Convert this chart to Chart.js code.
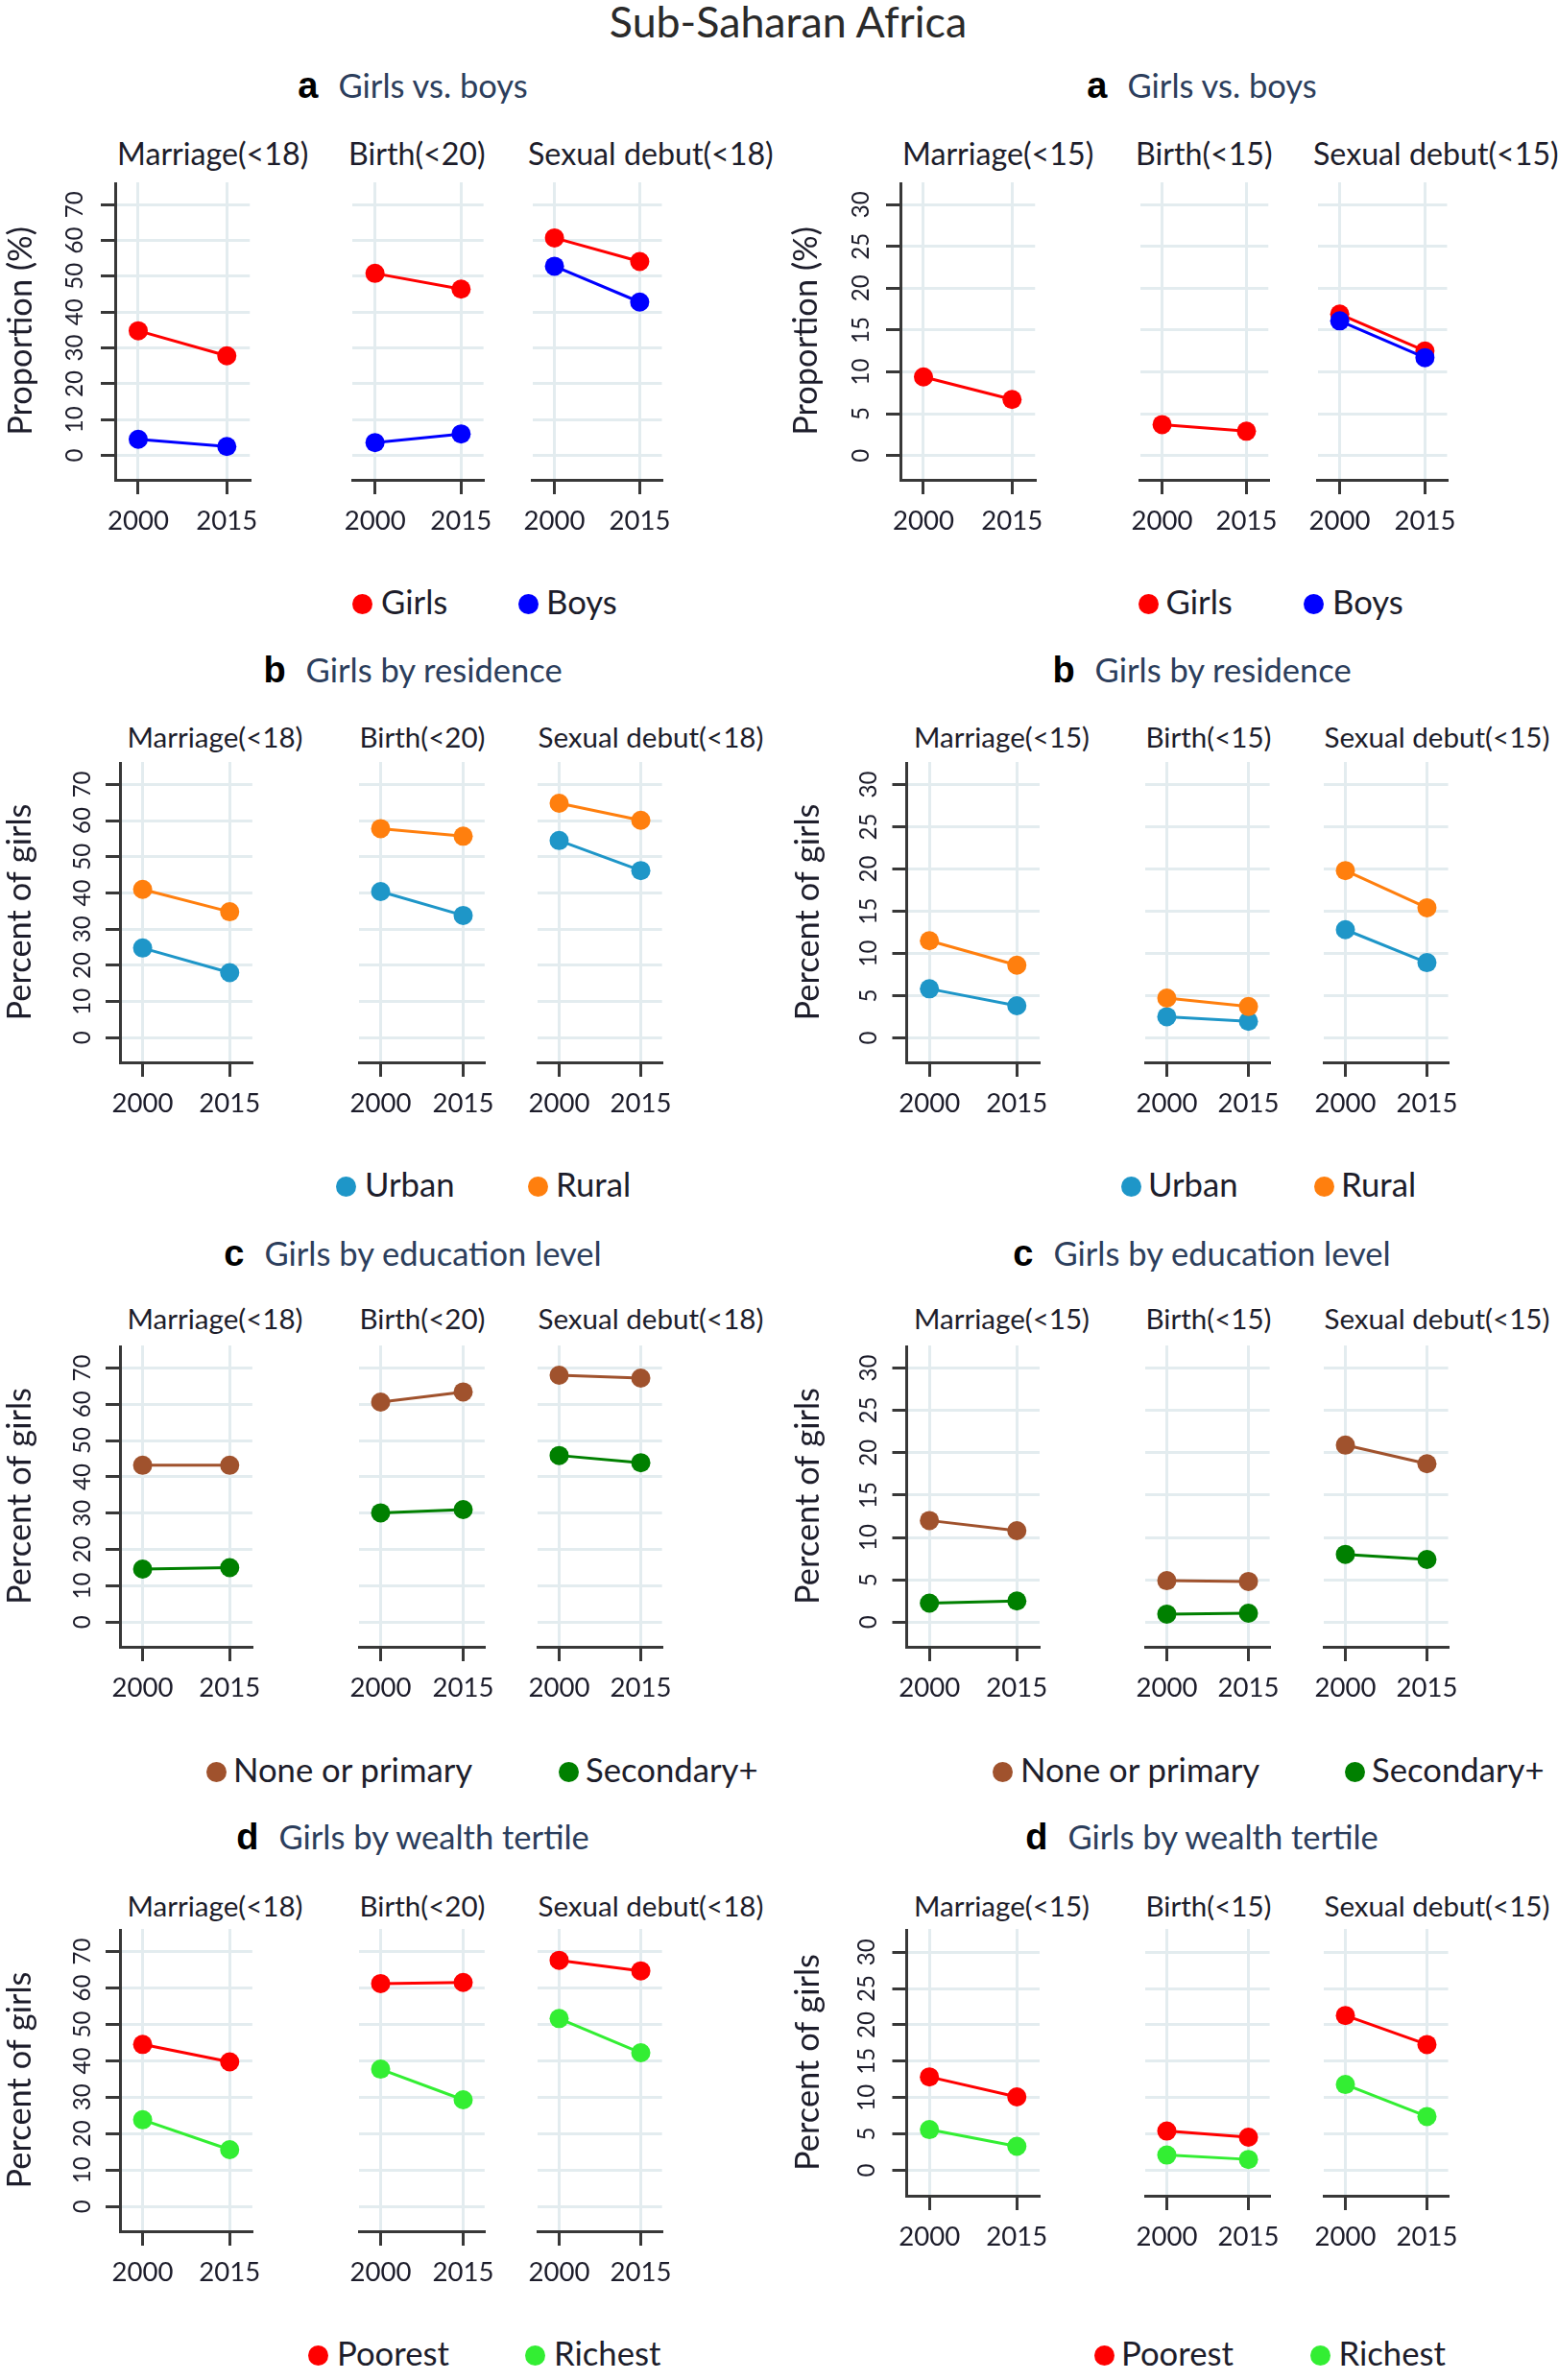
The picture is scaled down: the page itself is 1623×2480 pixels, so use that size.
<!DOCTYPE html>
<html><head><meta charset="utf-8">
<script src="https://cdn.jsdelivr.net/npm/chart.js@4.4.0/dist/chart.umd.min.js"></script>
<style>
html,body{margin:0;padding:0;background:#fff;}
#page{position:relative;width:1623px;height:2480px;overflow:hidden;font-family:Lato,"Open Sans",sans-serif;background:#fff;}
.t{position:absolute;white-space:nowrap;line-height:1;}
.dot{position:absolute;border-radius:50%;}
canvas{position:absolute;}
</style></head><body><div id="page"></div>
<script>
// ================= DATA =================
const YEARS = [2000, 2015];
const OUTCOMES_18 = ['Marriage(<18)', 'Birth(<20)', 'Sexual debut(<18)'];
const OUTCOMES_15 = ['Marriage(<15)', 'Birth(<15)', 'Sexual debut(<15)'];
const Y_TICKS_18 = [0, 10, 20, 30, 40, 50, 60, 70];
const Y_TICKS_15 = [0, 5, 10, 15, 20, 25, 30];
const MAIN_TITLE = 'Sub-Saharan Africa';
const PANEL_LETTERS = ['a', 'b', 'c', 'd'];
const PANEL_TITLES = ['Girls vs. boys', 'Girls by residence', 'Girls by education level', 'Girls by wealth tertile'];
const Y_TITLES = ['Proportion (%)', 'Percent of girls', 'Percent of girls', 'Percent of girls'];
const SERIES_NAMES = [['Girls', 'Boys'], ['Urban', 'Rural'], ['None or primary', 'Secondary+'], ['Poorest', 'Richest']];

// values per outcome: [2000, 2015]
const GIRLS_18 = [[34.8, 27.8], [50.8, 46.4], [60.7, 54.1]];
const BOYS_18  = [[4.5, 2.5], [3.6, 6.0], [52.8, 42.8]];
const GIRLS_15 = [[9.4, 6.7], [3.7, 2.9], [16.9, 12.5]];
const BOYS_15  = [null, null, [16.1, 11.7]];

const URBAN_18 = [[24.8, 18.0], [40.4, 33.8], [54.5, 46.2]];
const RURAL_18 = [[41.0, 34.8], [57.8, 55.7], [64.8, 60.1]];
const URBAN_15 = [[5.8, 3.8], [2.5, 1.95], [12.8, 8.9]];
const RURAL_15 = [[11.5, 8.6], [4.7, 3.7], [19.8, 15.4]];

const NONE_PRIM_18 = [[43.2, 43.2], [60.6, 63.4], [68.0, 67.2]];
const SECONDARY_18 = [[14.6, 15.0], [30.1, 31.0], [45.9, 43.9]];
const NONE_PRIM_15 = [[12.0, 10.8], [4.9, 4.8], [20.9, 18.7]];
const SECONDARY_15 = [[2.25, 2.5], [0.95, 1.05], [8.0, 7.4]];

const POOREST_18 = [[44.5, 39.7], [61.2, 61.5], [67.6, 64.7]];
const RICHEST_18 = [[23.8, 15.6], [37.7, 29.3], [51.6, 42.2]];
const POOREST_15 = [[12.85, 10.1], [5.4, 4.55], [21.3, 17.3]];
const RICHEST_15 = [[5.6, 3.3], [2.1, 1.5], [11.8, 7.4]];

const PANEL_SERIES_18 = [[GIRLS_18, BOYS_18], [URBAN_18, RURAL_18], [NONE_PRIM_18, SECONDARY_18], [POOREST_18, RICHEST_18]];
const PANEL_SERIES_15 = [[GIRLS_15, BOYS_15], [URBAN_15, RURAL_15], [NONE_PRIM_15, SECONDARY_15], [POOREST_15, RICHEST_15]];

// ================= STYLE / LAYOUT =================
const SERIES_COLORS = [['#ff0000', '#0000ff'], ['#1e96c8', '#ff7f0e'], ['#a0522d', '#008000'], ['#ff0000', '#33ee33']];
const TEXT = '#1d1d2b';
const NAVY = '#2c3e5c';
const GRID = '#e3ecef';
const AXIS = '#383838';
const FONT = 'Lato';

const ROWS = [
  {titleY: 89,   subY: 162,  top: 190,  bottom: 500,  legendY: 629},
  {titleY: 698,  subY: 769,  top: 794,  bottom: 1107, legendY: 1236},
  {titleY: 1306, subY: 1375, top: 1402, bottom: 1716, legendY: 1846},
  {titleY: 1914, subY: 1987, top: 2010, bottom: 2325, legendY: 2454}
];
const COL_LEFT = [0, 811];
const TITLE_CENTER = [430, 1252];
const PLOTS_A = [[[120, 267], [361, 510], [548, 696]], [[938, 1085], [1181, 1328], [1366, 1514]]];
const PLOTS_B = [[[125, 270], [367, 512], [553, 697]], [[944.5, 1090], [1186, 1330], [1372, 1515.6]]];
const LEGEND_POS = [
  [[[377.5, 397], [550.5, 569]], [[1196.5, 1214.5], [1368.5, 1388]]],
  [[[360.5, 380], [560.5, 579]], [[1178, 1196], [1379, 1397]]],
  [[[225, 243], [592.5, 610]], [[1044, 1063], [1411, 1429]]],
  [[[331, 351], [557.7, 577]], [[1150, 1168], [1375, 1394.5]]]
];
const X_RANGE = [1996.1, 2018.9];
const Y_RANGE_18 = [-6.8, 76.2];
const Y_RANGE_15 = [-2.91, 32.66];

// fit font sizes to measured widths
const mctx = document.createElement('canvas').getContext('2d');
function fit(text, w, weight, fam) {
  mctx.font = (weight || 'normal') + ' 100px ' + (fam || FONT);
  return 100 * w / mctx.measureText(text).width;
}
const F = {
  title: fit(MAIN_TITLE, 374),
  panel: fit('Girls by residenceGirls vs. boys', 466),
  subA: fit('Marriage(<18)Sexual debut(<18)', 455),
  subB: fit('Marriage(<18)Sexual debut(<18)', 418),
  xtick: fit('2000', 64),
  ytick: fit('70', 28),
  ytitle: fit('Percent of girls', 226),
  legend: fit('None or primary', 250)
};

const page = document.getElementById('page');
function addText(txt, x, yc, size, o) {
  o = o || {};
  const d = document.createElement('div');
  d.className = 't';
  d.textContent = txt;
  d.style.fontSize = size + 'px';
  d.style.fontFamily = o.family || FONT;
  d.style.fontWeight = o.weight || 'normal';
  d.style.color = o.color || TEXT;
  d.style.top = (yc - 0.55 * size) + 'px';
  d.style.left = x + 'px';
  if (o.center) d.style.transform = 'translateX(-50%)';
  page.appendChild(d);
  return d;
}

// main title
addText(MAIN_TITLE, 821, 25, F.title, {center: true, color: '#2a2a2a'});

const yRotPlugin = {
  id: 'yRot',
  afterDraw(chart, args, opts) {
    if (!opts.show) return;
    const s = chart.scales.y, ctx = chart.ctx;
    ctx.save();
    ctx.font = F.ytick + 'px ' + FONT;
    ctx.fillStyle = TEXT;
    ctx.textAlign = 'center';
    ctx.textBaseline = 'middle';
    opts.ticks.forEach(v => {
      const y = s.getPixelForValue(v);
      ctx.save();
      ctx.translate(chart.chartArea.left - opts.offset, y);
      ctx.rotate(-Math.PI / 2);
      ctx.fillText(String(v), 0, 2);
      ctx.restore();
    });
    ctx.restore();
  }
};

function makeSub(o) {
  const XH = 80, PR = 16;
  const cLeft = o.first ? o.colLeft : Math.floor(o.plotLeft - 16);
  const PL = o.plotLeft - cLeft;
  const w = Math.ceil(PL + (o.plotRight - o.plotLeft) + PR);
  const padR = w - PL - (o.plotRight - o.plotLeft);
  const h = Math.round(o.bottom - o.top) + XH;
  const cv = document.createElement('canvas');
  cv.width = w; cv.height = h;
  cv.style.left = cLeft + 'px'; cv.style.top = o.top + 'px';
  cv.style.width = w + 'px'; cv.style.height = h + 'px';
  page.appendChild(cv);
  const datasets = [];
  o.series.forEach((vals, i) => {
    if (!vals) return;
    datasets.push({
      label: o.names[i],
      data: YEARS.map((yr, k) => ({x: yr, y: vals[k]})),
      borderColor: o.colors[i], backgroundColor: o.colors[i],
      pointBackgroundColor: o.colors[i], pointBorderColor: o.colors[i],
      pointRadius: 10, pointBorderWidth: 0, borderWidth: 3, tension: 0,
      order: 2 - i
    });
  });
  new Chart(cv, {
    type: 'line',
    data: {datasets},
    plugins: [yRotPlugin],
    options: {
      responsive: false, animation: false, events: [],
      layout: {autoPadding: false, padding: {left: o.first ? 0 : PL, right: padR, top: 0, bottom: 0}},
      plugins: {
        legend: {display: false}, tooltip: {enabled: false}, title: {display: false},
        yRot: {show: o.first, ticks: o.yTicks, offset: o.yLabelOff}
      },
      scales: {
        x: {
          type: 'linear', min: X_RANGE[0], max: X_RANGE[1],
          afterBuildTicks: s => { s.ticks = YEARS.map(v => ({value: v})); },
          afterFit: s => { s.height = XH; },
          ticks: {autoSkip: false, maxRotation: 0, minRotation: 0, padding: 12,
                  color: TEXT, font: {family: FONT, size: F.xtick}, callback: v => String(v)},
          grid: {color: GRID, lineWidth: 3, drawTicks: true, tickLength: 15, tickColor: AXIS, tickWidth: 3},
          border: {display: true, color: AXIS, width: 3}
        },
        y: {
          type: 'linear', min: o.yRange[0], max: o.yRange[1],
          afterBuildTicks: s => { s.ticks = o.yTicks.map(v => ({value: v})); },
          afterFit: s => { s.width = o.first ? PL : 0; },
          ticks: {display: false},
          grid: {color: GRID, lineWidth: 3, drawTicks: o.first, tickLength: 15, tickColor: AXIS, tickWidth: 3},
          border: {display: o.first, color: AXIS, width: 3},
          title: o.first ? {display: true, text: o.yTitle, color: TEXT,
                 font: {family: FONT, size: F.ytitle}, padding: {top: o.yTitleCenter - 0.6 * F.ytitle, bottom: 0}}
                 : {display: false}
        }
      }
    }
  });
}

for (let r = 0; r < 4; r++) {
  const row = ROWS[r];
  for (let c = 0; c < 2; c++) {
    const plots = (r === 0 ? PLOTS_A : PLOTS_B)[c];
    const outcomes = c === 0 ? OUTCOMES_18 : OUTCOMES_15;
    const seriesSet = (c === 0 ? PANEL_SERIES_18 : PANEL_SERIES_15)[r];
    let bottom = row.bottom;
    let yRange = c === 0 ? Y_RANGE_18 : Y_RANGE_15;
    if (r === 3 && c === 1) { bottom = 2287.6; yRange = [-3.5, 33.2]; }
    const yTicks = c === 0 ? Y_TICKS_18 : Y_TICKS_15;

    // panel title
    const pt = document.createElement('div');
    pt.className = 't';
    pt.style.left = TITLE_CENTER[c] + 'px';
    pt.style.top = (row.titleY - 0.55 * F.panel) + 'px';
    pt.style.transform = 'translateX(-50%)';
    pt.style.display = 'flex'; pt.style.alignItems = 'baseline';
    const lt = document.createElement('span');
    lt.textContent = PANEL_LETTERS[r];
    lt.style.cssText = 'font-family:"Liberation Sans",Arial,sans-serif;font-weight:bold;color:#000;font-size:38px;margin-right:21px;';
    const tt = document.createElement('span');
    tt.textContent = PANEL_TITLES[r];
    tt.style.cssText = 'font-family:' + FONT + ';color:' + NAVY + ';font-size:' + F.panel + 'px;';
    pt.appendChild(lt); pt.appendChild(tt);
    page.appendChild(pt);

    for (let j = 0; j < 3; j++) {
      const [pl, pr] = plots[j];
      addText(outcomes[j], pl + (r === 0 ? 2 : 7.5), row.subY, r === 0 ? F.subA : F.subB);
      makeSub({
        first: j === 0, colLeft: COL_LEFT[c], plotLeft: pl, plotRight: pr,
        top: row.top, bottom: bottom, yRange: yRange, yTicks: yTicks,
        series: seriesSet.map(s => s[j]), names: SERIES_NAMES[r], colors: SERIES_COLORS[r],
        yTitle: Y_TITLES[r],
        yLabelOff: r === 0 ? (c === 0 ? 44 : 43) : (c === 0 ? 41 : (r === 3 ? 43 : 41.5)),
        yTitleCenter: r === 0 ? (c === 0 ? 22 : 29) : (c === 0 ? 21 : 31)
      });
    }
    // legend
    LEGEND_POS[r][c].forEach((p, i) => {
      const d = document.createElement('div');
      d.className = 'dot';
      d.style.width = '21px'; d.style.height = '21px';
      d.style.left = (p[0] - 10.5) + 'px'; d.style.top = (row.legendY - 10.5) + 'px';
      d.style.background = SERIES_COLORS[r][i];
      page.appendChild(d);
      addText(SERIES_NAMES[r][i], p[1], row.legendY, F.legend);
    });
  }
}
</script>
</body></html>
